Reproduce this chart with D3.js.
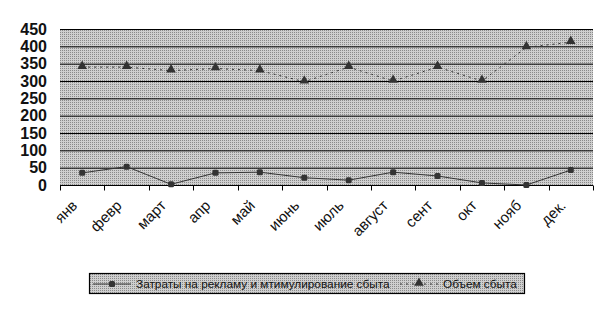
<!DOCTYPE html>
<html>
<head>
<meta charset="utf-8">
<script src="https://cdnjs.cloudflare.com/ajax/libs/d3/7.8.5/d3.min.js"></script>
<style>
  body { margin: 0; background: #fff; }
  svg { display: block; font-family: Arial, "Liberation Sans", sans-serif; }
</style>
</head>
<body>
<div id="container"></div>
<script>
var months = ['янв', 'февр', 'март', 'апр', 'май', 'июнь', 'июль', 'август', 'сент', 'окт', 'нояб', 'дек.'];
var costs = [35, 53, 2, 35, 37, 21, 14, 37, 26, 6, 0, 43];
var sales = [340, 340, 330, 336, 330, 298, 340, 300, 340, 300, 397, 412];
var yTicks = [0, 50, 100, 150, 200, 250, 300, 350, 400, 450];
var seriesNames = ['Затраты на рекламу и мтимулирование сбыта', 'Объем сбыта'];

var W = 612, H = 327;
var pLeft = 60, pRight = 593, pTop = 29, pBottom = 185;

var svg = d3.select('#container')
  .append('svg')
  .attr('width', W)
  .attr('height', H);

// dotted grey fill like the old office chart
var defs = svg.append('defs');
var pat = defs.append('pattern')
  .attr('id', 'dots')
  .attr('width', 2).attr('height', 2)
  .attr('patternUnits', 'userSpaceOnUse');
pat.append('rect').attr('width', 2).attr('height', 2).attr('fill', '#cfcfcf');
pat.append('rect').attr('width', 1).attr('height', 1).attr('fill', '#8a8a8a');

var x = d3.scaleBand().domain(months).range([pLeft, pRight]);
var y = d3.scaleLinear().domain([0, 450]).range([pBottom, pTop]);

svg.append('rect')
  .attr('x', pLeft).attr('y', pTop)
  .attr('width', pRight - pLeft).attr('height', pBottom - pTop)
  .attr('fill', 'url(#dots)');

// gridlines
svg.append('g')
  .selectAll('line')
  .data(yTicks.slice(1))
  .enter().append('line')
  .attr('x1', pLeft).attr('x2', pRight)
  .attr('y1', function(d) { return y(d) + 0.5; })
  .attr('y2', function(d) { return y(d) + 0.5; })
  .attr('stroke', '#000').attr('stroke-width', 1);

// y axis labels
var yAxis = d3.axisLeft(y).tickValues(yTicks).tickSize(0).tickPadding(13);
var gy = svg.append('g').attr('transform', 'translate(' + pLeft + ',0)').call(yAxis);
gy.select('.domain').remove();
gy.selectAll('text')
  .attr('font-size', 16).attr('font-weight', 'bold')
  .attr('font-family', 'Arial, "Liberation Sans", sans-serif')
  .attr('fill', '#111');

// x axis
var gx = svg.append('g').attr('transform', 'translate(0,' + (pBottom + 0.5) + ')');
gx.append('line').attr('x1', pLeft).attr('x2', pRight).attr('stroke', '#000');
var bounds = months.map(function(m) { return x(m); }).concat([pRight]);
gx.selectAll('.tk').data(bounds).enter().append('line')
  .attr('x1', function(d) { return Math.round(d) + 0.5; }).attr('x2', function(d) { return Math.round(d) + 0.5; })
  .attr('y1', 0).attr('y2', 5).attr('stroke', '#000');
gx.selectAll('text').data(months).enter().append('text')
  .attr('transform', function(d) {
    return 'translate(' + (x(d) + x.bandwidth() / 2 - 4) + ',21) rotate(-45)';
  })
  .attr('text-anchor', 'end')
  .attr('font-size', 15)
  .attr('fill', '#111')
  .text(function(d) { return d; });

var cx = function(d, i) { return x(months[i]) + x.bandwidth() / 2; };
var line = d3.line().x(function(d, i) { return cx(d, i); }).y(function(d) { return y(d); });

// sales (dotted with triangles)
svg.append('path').datum(sales)
  .attr('d', line).attr('fill', 'none')
  .attr('stroke', '#333').attr('stroke-width', 1).attr('stroke-dasharray', '2,4');
var tri = d3.symbol().type(d3.symbolTriangle).size(40);
svg.append('g').selectAll('path').data(sales).enter().append('path')
  .attr('d', tri)
  .attr('transform', function(d, i) { return 'translate(' + cx(d, i) + ',' + (y(d) - 1) + ')'; })
  .attr('fill', '#333');

// costs (solid with squares/dots)
svg.append('path').datum(costs)
  .attr('d', line).attr('fill', 'none')
  .attr('stroke', '#333').attr('stroke-width', 1);
svg.append('g').selectAll('rect').data(costs).enter().append('rect')
  .attr('x', function(d, i) { return cx(d, i) - 3; })
  .attr('y', function(d) { return y(d) - 3; })
  .attr('width', 6).attr('height', 6).attr('rx', 1.5)
  .attr('fill', '#333');

// legend
var lg = svg.append('g');
lg.append('rect')
  .attr('x', 89.5).attr('y', 273.5).attr('width', 435).attr('height', 20)
  .attr('fill', 'url(#dots)').attr('stroke', '#000').attr('stroke-width', 1.2);
lg.append('line').attr('x1', 93).attr('x2', 131).attr('y1', 284).attr('y2', 284).attr('stroke', '#333');
lg.append('rect').attr('x', 109).attr('y', 281).attr('width', 6).attr('height', 6).attr('rx', 1.5).attr('fill', '#333');
lg.append('text').attr('x', 136).attr('y', 288).attr('font-size', 11.8).attr('fill', '#111').text(seriesNames[0]);
lg.append('line').attr('x1', 400).attr('x2', 438).attr('y1', 284).attr('y2', 284)
  .attr('stroke', '#333').attr('stroke-dasharray', '2,4');
lg.append('path').attr('d', tri).attr('transform', 'translate(419,283)').attr('fill', '#333');
lg.append('text').attr('x', 443).attr('y', 288).attr('font-size', 11.8).attr('fill', '#111').text(seriesNames[1]);
</script>
</body>
</html>
